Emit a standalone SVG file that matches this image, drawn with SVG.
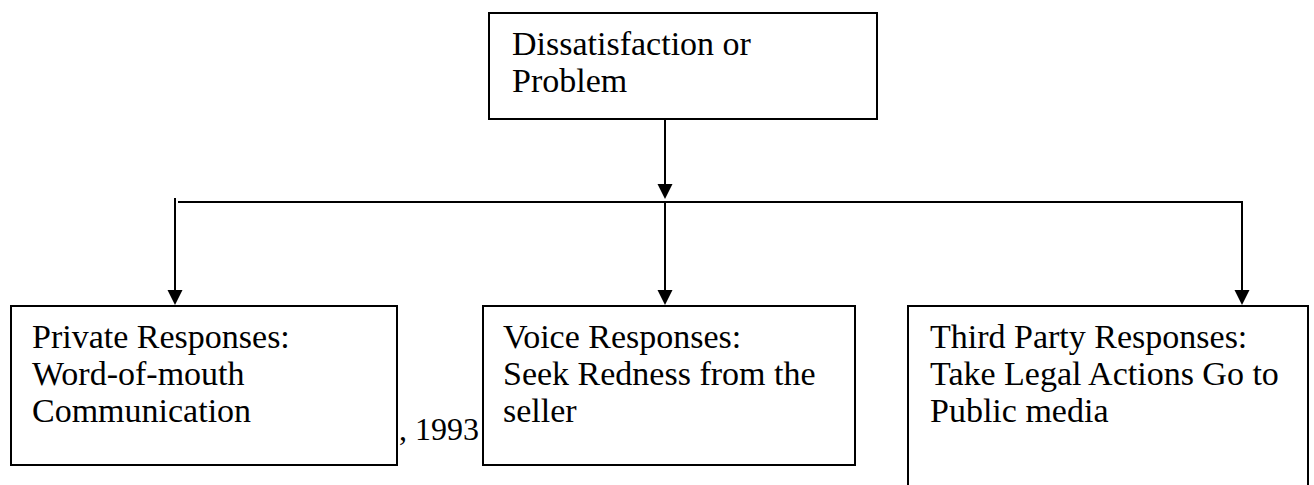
<svg xmlns="http://www.w3.org/2000/svg" width="1314" height="485" viewBox="0 0 1314 485">
<style>
.box{fill:#fff;stroke:#000;stroke-width:2}
.lbl{font-family:"Liberation Serif","DejaVu Serif",serif;font-size:34px;fill:#000}
.cit{font-family:"Liberation Serif",serif;font-size:32px;fill:#000}
.ln{stroke:#000;stroke-width:2;fill:none}
</style>
<defs>
<marker id="arr" markerUnits="userSpaceOnUse" markerWidth="16" markerHeight="16" viewBox="0 0 16 16" refX="8" refY="15" orient="auto-start-reverse">
<path d="M0.5,0 L15.5,0 L8,15 Z" fill="#000"/>
</marker>
</defs>
<rect width="1314" height="485" fill="#fff"/>
<text class="cit" x="399" y="440">, 1993</text>
<g id="connectors">
<line class="ln" x1="665" y1="119" x2="665" y2="185"/>
<path d="M657.5,184 L672.5,184 L665,199 Z" fill="#000"/>
<line class="ln" x1="178" y1="202" x2="1243" y2="202"/>
<line class="ln" x1="175" y1="198" x2="175" y2="291"/>
<path d="M167.5,290 L182.5,290 L175,305 Z" fill="#000"/>
<line class="ln" x1="665" y1="202" x2="665" y2="291"/>
<path d="M657.5,290 L672.5,290 L665,305 Z" fill="#000"/>
<line class="ln" x1="1242" y1="202" x2="1242" y2="291"/>
<path d="M1234.5,290 L1249.5,290 L1242,305 Z" fill="#000"/>
</g>
<g id="top">
<rect class="box" x="489" y="13" width="388" height="106"/>
<text class="lbl" x="512" y="55">Dissatisfaction or</text>
<text class="lbl" x="512" y="92">Problem</text>
</g>
<g id="private">
<rect class="box" x="11" y="306" width="386" height="159"/>
<text class="lbl" x="32" y="348">Private Responses:</text>
<text class="lbl" x="32" y="385">Word-of-mouth</text>
<text class="lbl" x="32" y="422">Communication</text>
</g>
<g id="voice">
<rect class="box" x="483" y="306" width="372" height="159"/>
<text class="lbl" x="503" y="348">Voice Responses:</text>
<text class="lbl" x="503" y="385">Seek Redness from the</text>
<text class="lbl" x="503" y="422">seller</text>
</g>
<g id="third">
<rect class="box" x="908" y="306" width="400" height="200"/>
<text class="lbl" x="930" y="348">Third Party Responses:</text>
<text class="lbl" x="930" y="385">Take Legal Actions Go to</text>
<text class="lbl" x="930" y="422">Public media</text>
</g>
</svg>
